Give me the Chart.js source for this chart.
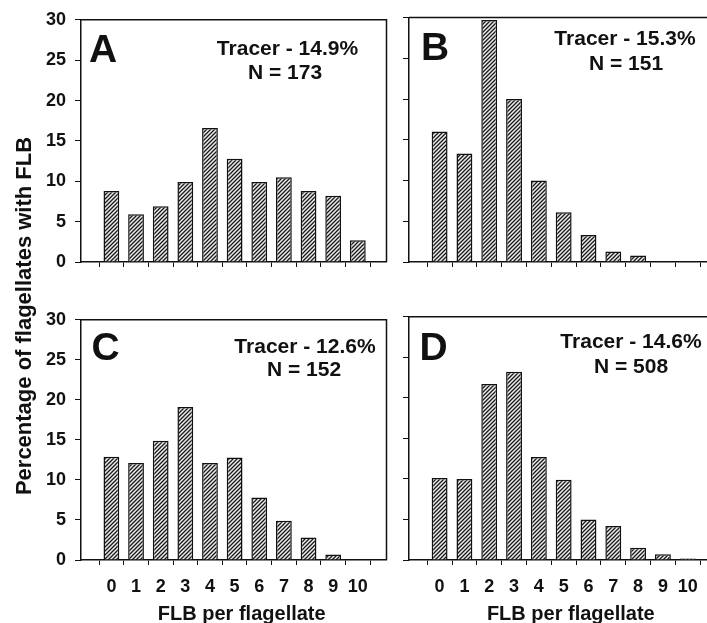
<!DOCTYPE html>
<html>
<head>
<meta charset="utf-8">
<script src="https://cdn.jsdelivr.net/npm/chart.js@4.4.1/dist/chart.umd.min.js"></script>
<style>
  html, body { margin: 0; padding: 0; background: #fff; overflow: hidden; }
  #wrap { position: relative; width: 707px; height: 623px; overflow: hidden; }
  canvas { position: absolute; }
  #ytitle {
    position: absolute; left: -176px; top: 303px; width: 400px; text-align: center;
    font: bold 22px "Liberation Sans", Arial, sans-serif; color: #111;
    transform: rotate(-90deg); transform-origin: 50% 50%; line-height: 26px;
  }
</style>
</head>
<body>
<div id="wrap">
  <canvas id="chartA" width="395" height="290" style="left:0;top:0"></canvas>
  <canvas id="chartB" width="330" height="290" style="left:395px;top:0"></canvas>
  <canvas id="chartC" width="395" height="323" style="left:0;top:300px"></canvas>
  <canvas id="chartD" width="330" height="323" style="left:395px;top:300px"></canvas>
  <div id="ytitle">Percentage of flagellates with FLB</div>
</div>
<script>
// FLB per flagellate (x categories)
var categories = [0, 1, 2, 3, 4, 5, 6, 7, 8, 9, 10];
var xLabels = ['0', '1', '2', '3', '4', '5', '6', '7', '8', '9', '10'];
var yTicks = [0, 5, 10, 15, 20, 25, 30];

// percentage of flagellates with FLB
var pctA = [8.8, 5.9, 6.9, 9.9, 16.6, 12.8, 9.9, 10.5, 8.8, 8.2, 2.7];
var pctB = [16.0, 13.3, 29.7, 20.0, 10.0, 6.1, 3.3, 1.3, 0.8, 0, 0];
var pctC = [12.9, 12.1, 14.9, 19.1, 12.1, 12.8, 7.8, 4.9, 2.8, 0.7, 0];
var pctD = [10.1, 10.0, 21.7, 23.2, 12.7, 9.9, 5.0, 4.2, 1.5, 0.7, 0.2];

var panelLetters = ['A', 'B', 'C', 'D'];
var tracerTexts = ['Tracer - 14.9%', 'Tracer - 15.3%', 'Tracer - 12.6%', 'Tracer - 14.6%'];
var nTexts = ['N = 173', 'N = 151', 'N = 152', 'N = 508'];
var xTitle = 'FLB per flagellate';

var FONT = '"Liberation Sans", Arial, sans-serif';
var INK = '#111';

function hatchPattern() {
  var c = document.createElement('canvas');
  c.width = 4; c.height = 4;
  var g = c.getContext('2d');
  g.fillStyle = '#ececec';
  g.fillRect(0, 0, 4, 4);
  g.strokeStyle = '#1a1a1a';
  g.lineWidth = 1.3;
  g.beginPath();
  g.moveTo(-1, 5); g.lineTo(5, -1);
  g.moveTo(-1, 1); g.lineTo(1, -1);
  g.moveTo(3, 5); g.lineTo(5, 3);
  g.stroke();
  return g.createPattern(c, 'repeat');
}

// box lines, panel letter, tracer text, x title
var panelDecor = {
  id: 'panelDecor',
  afterDraw: function (chart) {
    var o = chart.options.plugins.panelDecor;
    var a = chart.chartArea;
    var ctx = chart.ctx;
    ctx.save();
    ctx.strokeStyle = INK;
    ctx.lineWidth = 1.5;
    ctx.beginPath();
    ctx.moveTo(a.left, a.top);
    ctx.lineTo(a.right, a.top);
    ctx.lineTo(a.right, a.bottom);
    ctx.stroke();

    ctx.fillStyle = INK;
    ctx.textBaseline = 'alphabetic';
    ctx.textAlign = 'center';
    ctx.font = 'bold 39px ' + FONT;
    ctx.fillText(o.letter, a.left + o.letterPos[0], a.top + o.letterPos[1]);
    ctx.font = 'bold 21px ' + FONT;
    ctx.fillText(o.tracer, a.left + o.tracerPos[0], a.top + o.tracerPos[1]);
    ctx.fillText(o.n, a.left + o.nPos[0], a.top + o.nPos[1]);
    if (o.showXTitle) {
      ctx.font = 'bold 20px ' + FONT;
      ctx.fillText(xTitle, (a.left + a.right) / 2 + 8, a.bottom + 60);
    }
    ctx.restore();
  }
};

function makePanel(id, values, idx, geo) {
  var pts = categories.map(function (c, i) { return { x: c, y: values[i] }; });
  return new Chart(document.getElementById(id).getContext('2d'), {
    type: 'bar',
    data: {
      datasets: [{
        data: pts,
        backgroundColor: hatchPattern(),
        borderColor: INK,
        borderWidth: 1.5,
        barPercentage: 0.64,
        categoryPercentage: 1
      }]
    },
    options: {
      responsive: false,
      animation: false,
      layout: { padding: { top: geo.top, right: geo.right, left: 0, bottom: 0 } },
      plugins: {
        legend: { display: false },
        tooltip: { enabled: false },
        panelDecor: {
          letter: panelLetters[idx],
          tracer: tracerTexts[idx],
          n: nTexts[idx],
          letterPos: geo.letterPos,
          tracerPos: geo.tracerPos,
          nPos: geo.nPos,
          showXTitle: geo.xLabels
        }
      },
      scales: {
        x: {
          type: 'linear',
          min: -0.67,
          max: 10.6,
          afterBuildTicks: function (s) { s.ticks = categories.map(function (v) { return { value: v }; }); },
          afterFit: function (s) { s.height = geo.xHeight; },
          grid: { display: true, drawOnChartArea: false, drawTicks: true, tickLength: 5, color: INK, lineWidth: 1 },
          border: { display: true, color: INK, width: 1.5 },
          ticks: {
            display: geo.xLabels,
            autoSkip: false,
            maxRotation: 0,
            padding: 11,
            color: INK,
            font: { family: FONT, size: 18, weight: 'bold' },
            callback: function (v) { return xLabels[categories.indexOf(v)]; }
          }
        },
        y: {
          min: 0,
          max: 30,
          afterBuildTicks: function (s) { s.ticks = yTicks.map(function (v) { return { value: v }; }); },
          afterFit: function (s) { s.width = geo.yWidth; },
          grid: { display: true, drawOnChartArea: false, drawTicks: true, tickLength: 6, color: INK, lineWidth: 1 },
          border: { display: true, color: INK, width: 1.5 },
          ticks: {
            display: geo.yLabels,
            padding: 9,
            color: INK,
            font: { family: FONT, size: 18, weight: 'bold' }
          }
        }
      }
    },
    plugins: [panelDecor]
  });
}

makePanel('chartA', pctA, 0, {
  top: 18, right: 8.5, yWidth: 81, xHeight: 28, xLabels: false, yLabels: true,
  letterPos: [22, 42], tracerPos: [206.5, 35], nPos: [204, 59]
});
makePanel('chartB', pctB, 1, {
  top: 17.5, right: 8.4, yWidth: 14, xHeight: 28, xLabels: false, yLabels: false,
  letterPos: [26, 42.5], tracerPos: [216, 27.5], nPos: [217, 52.5]
});
makePanel('chartC', pctC, 2, {
  top: 17, right: 8.5, yWidth: 81, xHeight: 63, xLabels: true, yLabels: true,
  letterPos: [24.5, 40], tracerPos: [224, 33], nPos: [223, 56]
});
makePanel('chartD', pctD, 3, {
  top: 16.7, right: 8.4, yWidth: 14, xHeight: 63, xLabels: true, yLabels: false,
  letterPos: [24.5, 43], tracerPos: [222, 31], nPos: [222, 56]
});
</script>
</body>
</html>
